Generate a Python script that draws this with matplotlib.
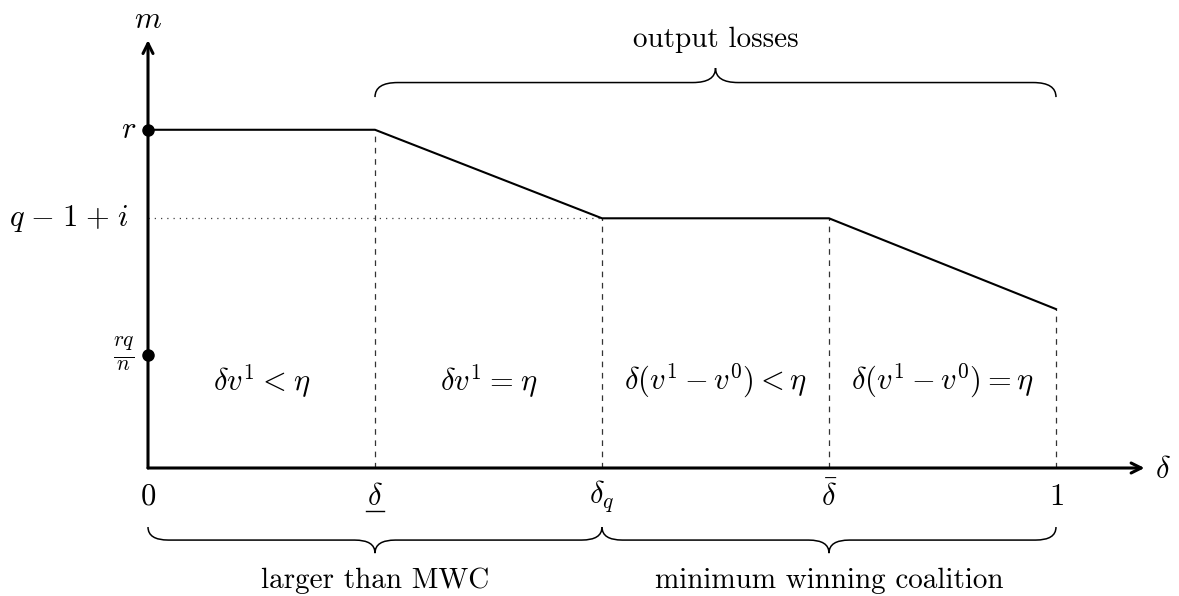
import matplotlib
matplotlib.use("Agg")
import matplotlib.pyplot as plt
from matplotlib.path import Path
from matplotlib.patches import PathPatch

plt.rcParams['mathtext.fontset'] = 'cm'

# kink points of m(delta), in axis units
delta_pts = [0, 1, 2, 3, 4]
m_pts = [1.49, 1.49, 1.1, 1.1, 0.7]
tick_labels = [r'$0$', r'$\delta$', r'$\delta_q$', r'$\bar{\delta}$', r'$1$']
m_levels = [1.49, 1.1, 0.5]
m_labels = [r'$r$', r'$q\hspace{0.1}-\hspace{0.1}1\hspace{0.1}+\hspace{0.1}i$', r'$\frac{rq}{n}$']
dot_levels = [1.49, 0.5]
regions = [r'$\delta v^1\hspace{0.05}<\hspace{0.05}\eta$', r'$\delta v^1\hspace{0.05}=\hspace{0.05}\eta$',
           r'$\delta(v^1-v^0) < \eta$', r'$\delta(v^1-v^0) = \eta$']
bottom_braces = [(0, 2, 'larger than MWC'), (2, 4, 'minimum winning coalition')]
top_brace = (1, 4, 'output losses')

U = 227.0  # pixels per unit
W, H = 1179, 596
ox, oy = 148, 468


def brace(ax, x0, x1, y0, h, a=0.09, lw=1.1):
    hh = h / 2.0
    xm = (x0 + x1) / 2.0
    verts = [(x0, y0),
             (x0, y0 + hh), (x0 + a, y0 + hh),
             (xm - a, y0 + hh),
             (xm, y0 + hh), (xm, y0 + h),
             (xm, y0 + hh), (xm + a, y0 + hh),
             (x1 - a, y0 + hh),
             (x1, y0 + hh), (x1, y0)]
    codes = [Path.MOVETO,
             Path.CURVE3, Path.CURVE3,
             Path.LINETO,
             Path.CURVE3, Path.CURVE3,
             Path.CURVE3, Path.CURVE3,
             Path.LINETO,
             Path.CURVE3, Path.CURVE3]
    ax.add_patch(PathPatch(Path(verts, codes), fill=False, lw=lw, color='black'))


fig = plt.figure(figsize=(W / 100, H / 100), dpi=100)
ax = fig.add_axes([0, 0, 1, 1])
ax.set_xlim(-ox / U, (W - ox) / U)
ax.set_ylim(-(H - oy) / U, oy / U)
ax.axis('off')

# dashed verticals
for x, y in zip(delta_pts[1:], m_pts[1:]):
    ax.plot([x, x], [0, y], color='0.2', lw=0.9, ls=(0, (4.5, 4.5)), zorder=1)

# dotted level line
ax.plot([0, 2], [m_pts[2], m_pts[2]], color='0.25', lw=0.9, ls=(0, (1, 4)), zorder=1)

# the curve
ax.plot(delta_pts, m_pts, color='black', lw=1.5, zorder=2)

# axes with arrows
ax.annotate('', xy=(4.39, 0), xytext=(0, 0),
            arrowprops=dict(arrowstyle='->', lw=2.2, color='black', shrinkA=0, shrinkB=0,
                            mutation_scale=18), zorder=3)
ax.annotate('', xy=(0, 1.885), xytext=(0, 0),
            arrowprops=dict(arrowstyle='->', lw=2.2, color='black', shrinkA=0, shrinkB=0,
                            mutation_scale=18), zorder=3)
ax.text(0, 1.975, r'$m$', ha='center', va='center', fontsize=22)
ax.text(4.47, -0.005, r'$\delta$', ha='center', va='center', fontsize=22)

# dots on y axis
ax.plot([0] * len(dot_levels), dot_levels, 'o', color='black', ms=8, zorder=4)

# y labels
ax.text(-0.05, m_levels[0], m_labels[0], ha='right', va='center', fontsize=22)
ax.text(-0.085, m_levels[1], m_labels[1], ha='right', va='center', fontsize=22)
ax.text(-0.06, m_levels[2], m_labels[2], ha='right', va='center', fontsize=22)

# x tick labels
for x, lab in zip(delta_pts, tick_labels):
    ax.text(x, -0.125, lab, ha='center', va='center', fontsize=22)
# underline for lower delta
ax.plot([0.96, 1.04], [-0.19, -0.19], color='black', lw=1.0)

# region labels
for i, lab in enumerate(regions):
    ax.text(delta_pts[i] + 0.5, 0.385, lab, ha='center', va='center', fontsize=22)

# braces
for x0, x1, lab in bottom_braces:
    brace(ax, x0, x1, -0.26, -0.115)
    ax.text((x0 + x1) / 2, -0.495, lab, ha='center', va='center', fontsize=21, family='cmr10')

x0, x1, lab = top_brace
brace(ax, x0, x1, 1.634, 0.128, a=0.1)
ax.text((x0 + x1) / 2, 1.885, lab, ha='center', va='center', fontsize=21, family='cmr10')

fig.savefig('out.png', dpi=100)
